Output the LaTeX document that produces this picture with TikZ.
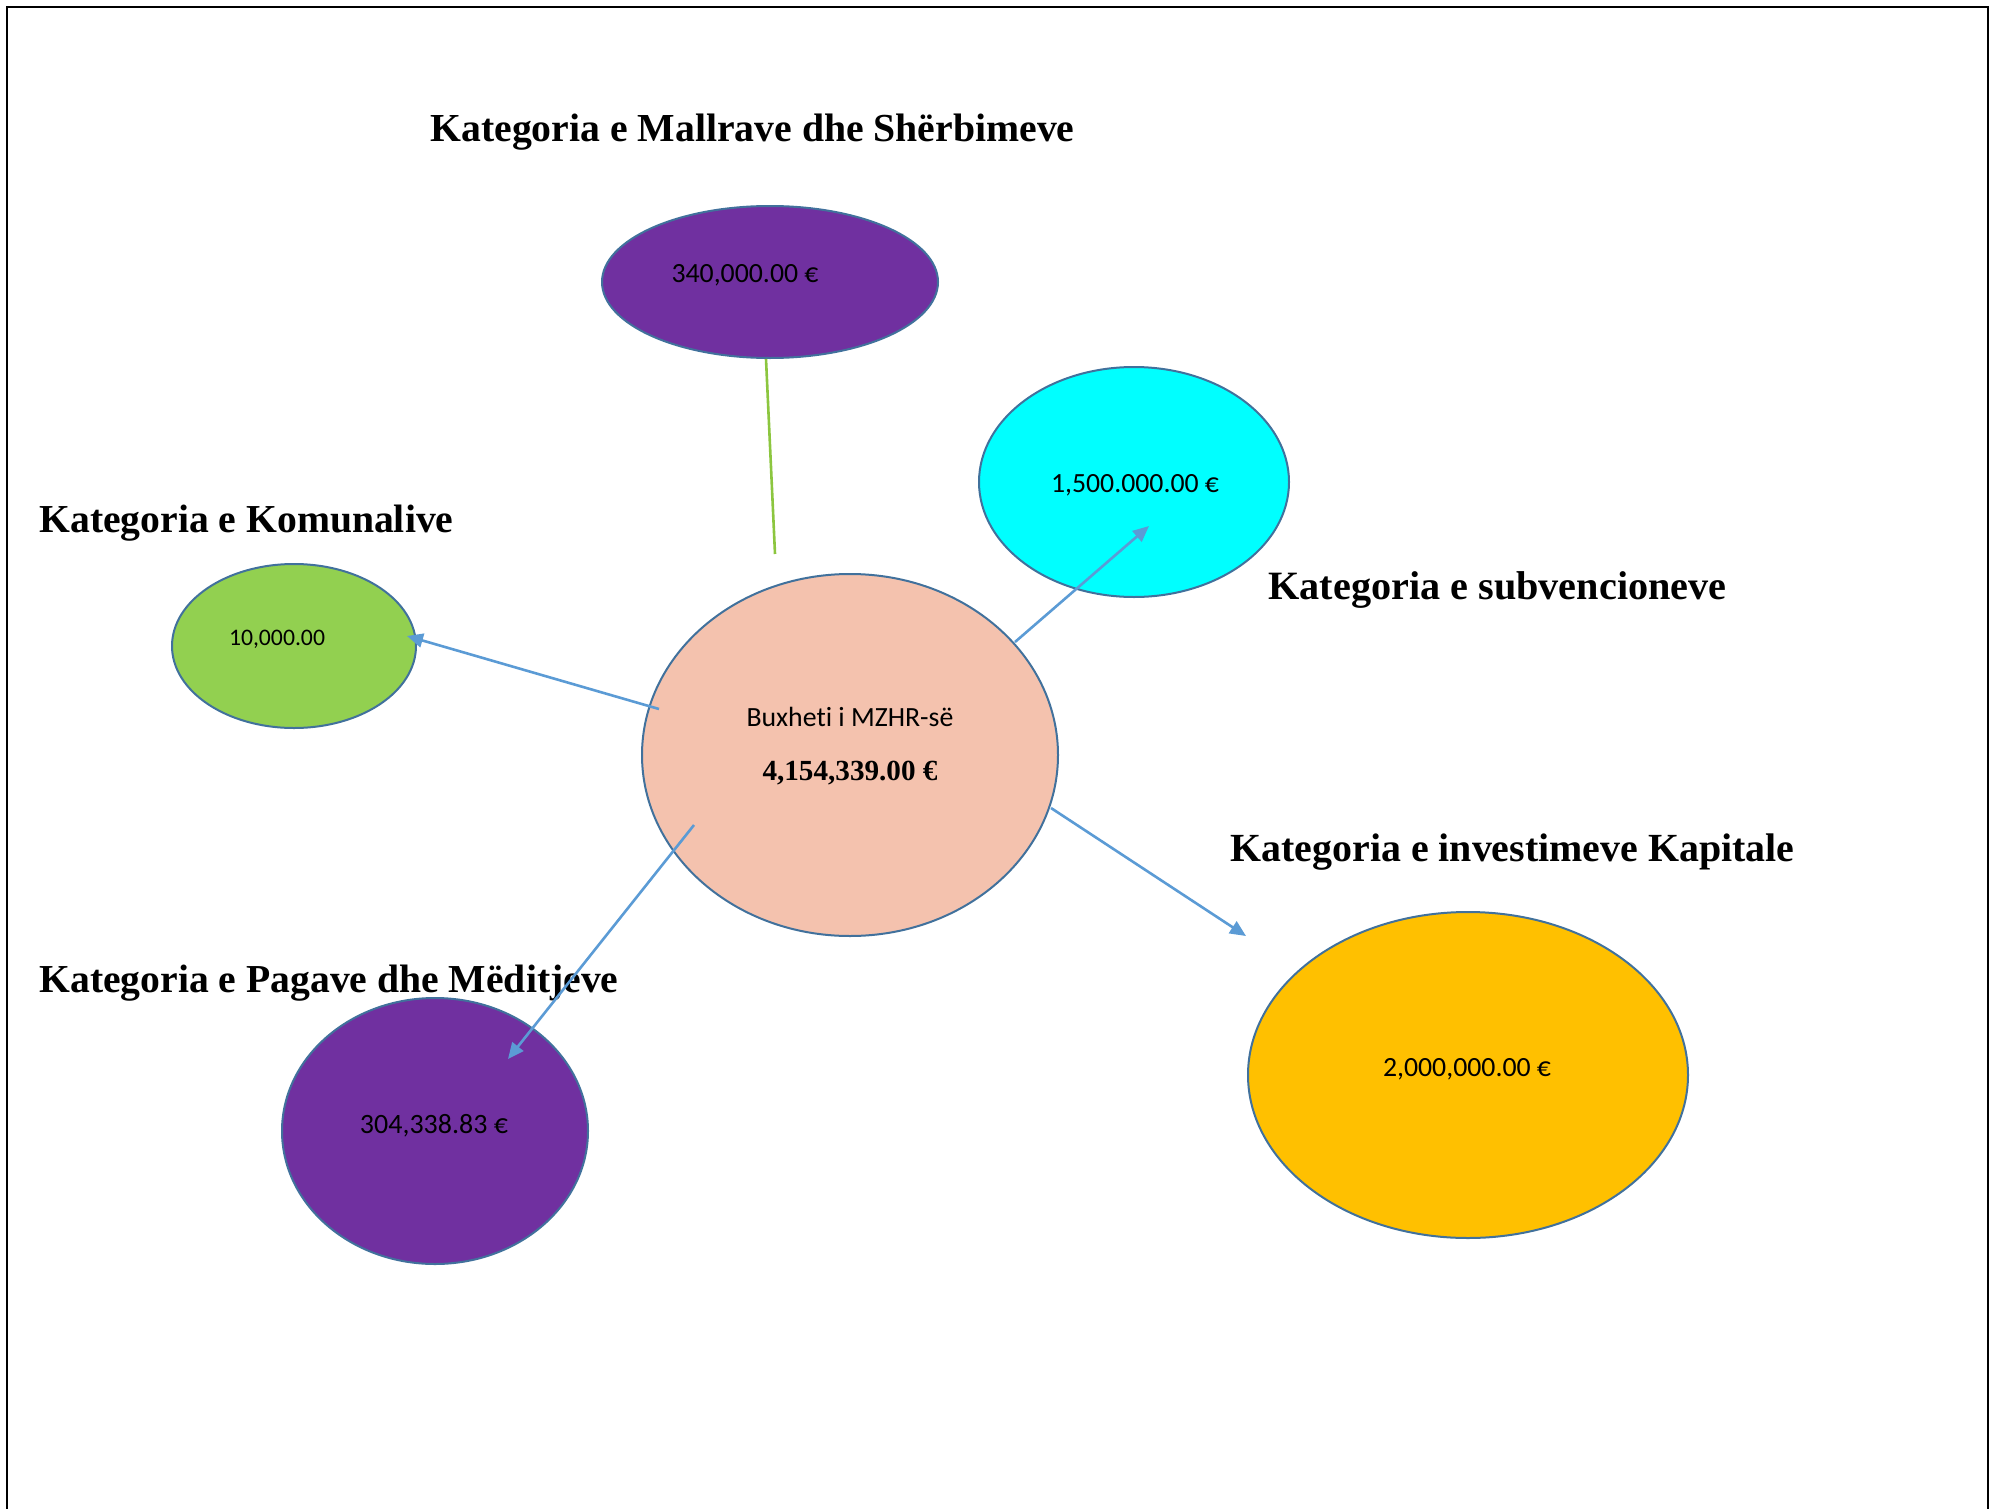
\documentclass[tikz,border=0pt]{standalone}
\usepackage{fontspec}
\setmainfont{Liberation Serif}
\newfontfamily\calib[Ligatures=NoCommon]{Carlito}
\usetikzlibrary{shapes.geometric,arrows.meta}
\definecolor{edgeblue}{HTML}{41719C}
\definecolor{arrblue}{HTML}{5B9BD5}
\definecolor{cpurple}{HTML}{7030A0}
\definecolor{ccyan}{HTML}{00FFFF}
\definecolor{cgreen}{HTML}{92D050}
\definecolor{csalmon}{HTML}{F4C2AE}
\definecolor{corange}{HTML}{FFC000}
\definecolor{lgreen}{HTML}{8CC63F}
\newcommand{\fitw}[2]{\resizebox{#1}{!}{#2}}
\begin{document}
\begin{tikzpicture}[x=0.5pt,y=-0.5pt,
  blob/.style={ellipse,draw=edgeblue,line width=1pt,inner sep=0pt},
  cat/.style={anchor=base west,inner sep=0pt},
  val/.style={anchor=base,inner sep=0pt},
  conn/.style={draw=arrblue,line width=1.3pt,-{Triangle[length=8pt,width=7pt]}}]
\useasboundingbox (0,0) rectangle (1991,1509);
\draw[line width=1.1pt] (7,1512) -- (7,7) -- (1988,7) -- (1988,1512);
% ellipses (sizes in pt = px/2)
\node[blob,fill=cpurple,minimum width=168pt,minimum height=76pt] (mall) at (770,282) {};
\node[blob,fill=ccyan,minimum width=155pt,minimum height=115pt] (subv) at (1134,482) {};
\node[blob,fill=cgreen,minimum width=122pt,minimum height=82pt] (kom) at (294,646) {};
\node[blob,fill=csalmon,minimum width=208pt,minimum height=181pt] (ctr) at (850,755) {};
\node[blob,fill=cpurple,minimum width=153pt,minimum height=133pt] (pag) at (435,1131) {};
\node[blob,fill=corange,minimum width=220pt,minimum height=163pt] (inv) at (1468,1075) {};
% values
\node[val] (tmall) at (745,282) {\fitw{73.5pt}{\calib 340,000.00 €}};
\node[val] (tsubv) at (1135,492) {\fitw{84pt}{\calib 1,500.000.00 €}};
\node[val] (tkom) at (277,645) {\fitw{48pt}{\calib 10,000.00}};
\node[val] (tctra) at (850,726) {\fitw{103.5pt}{\calib Buxheti i MZHR-së}};
\node[val] (tctrb) at (850,780) {\fitw{87.5pt}{\bfseries 4,154,339.00 €}};
\node[val] (tpag) at (434,1133) {\fitw{74pt}{\calib 304,338.83 €}};
\node[val] (tinv) at (1467,1076) {\fitw{84pt}{\calib 2,000,000.00 €}};
% category labels
\node[cat] (lmall) at (430,141) {\fitw{322pt}{\bfseries Kategoria e Mallrave dhe Shërbimeve}};
\node[cat] (lkom) at (39,532) {\fitw{207pt}{\bfseries Kategoria e Komunalive}};
\node[cat] (lsubv) at (1268,599) {\fitw{229pt}{\bfseries Kategoria e subvencioneve}};
\node[cat] (linv) at (1230,861) {\fitw{282pt}{\bfseries Kategoria e investimeve Kapitale}};
\node[cat] (lpag) at (39,992) {\fitw{289.5pt}{\bfseries Kategoria e Pagave dhe Mëditjeve}};
% connector end points
\coordinate (m1) at (766,359);
\coordinate (m2) at (775,554);
\coordinate (s1) at (1015,642);
\coordinate (s2) at (1149,526);
\coordinate (k1) at (659,709);
\coordinate (k2) at (407,636);
\coordinate (p1) at (694,825);
\coordinate (p2) at (508,1059);
\coordinate (i1) at (1051,808);
\coordinate (i2) at (1246,936);
\draw[draw=lgreen,line width=1.3pt] (m1) -- (m2);
\draw[conn] (s1) -- (s2);
\draw[conn] (k1) -- (k2);
\draw[conn] (p1) -- (p2);
\draw[conn] (i1) -- (i2);
\end{tikzpicture}
\end{document}
